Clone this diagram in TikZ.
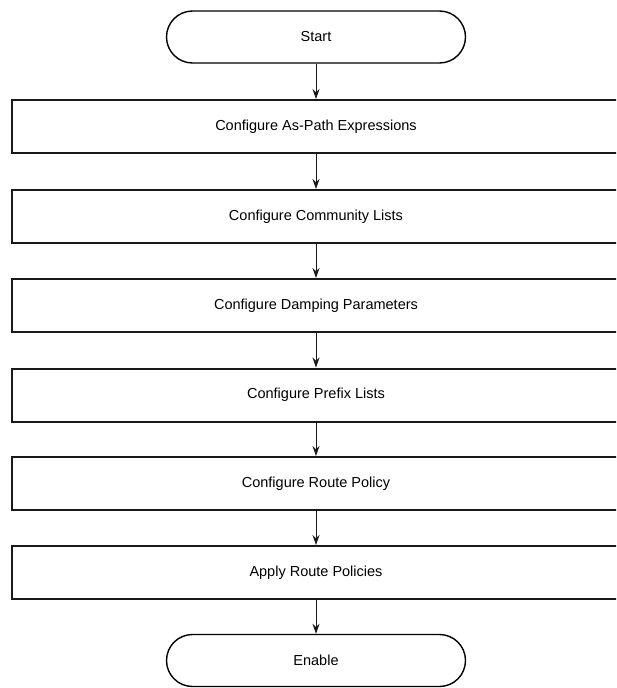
\documentclass[tikz,border=0pt]{standalone}
\usepackage{fontspec}
\setmainfont{Liberation Sans}
\usetikzlibrary{arrows.meta}
\begin{document}
\begin{tikzpicture}[x=1pt,y=-1pt,
  stepbox/.style={draw=black!90,line width=2pt,minimum width=608pt,minimum height=53pt,inner sep=0pt,font=\fontsize{14.5}{17}\selectfont},
  term/.style={draw=black,line width=1.4pt,rounded corners=26pt,minimum width=299pt,minimum height=52pt,inner sep=0pt,font=\fontsize{14.5}{17}\selectfont},
  conn/.style={draw=black!90,line width=0.9pt,-{Stealth[length=10pt,width=7pt]}}]
\useasboundingbox (0,0) rectangle (616,688);
\begin{scope}
\clip (0,0) rectangle (616,688);
\node[term] (start) at (316,37) {Start};
\node[stepbox] (s1) at (316,126.5) {Configure As-Path Expressions};
\node[stepbox] (s2) at (316,216.5) {Configure Community Lists};
\node[stepbox] (s3) at (316,305.5) {Configure Damping Parameters};
\node[stepbox] (s4) at (316,395) {Configure Prefix Lists};
\node[stepbox] (s5) at (316,483.5) {Configure Route Policy};
\node[stepbox] (s6) at (316,572.5) {Apply Route Policies};
\node[term] (enable) at (316,660.5) {Enable};
\end{scope}
\draw[conn] (start.south) -- (s1.north);
\draw[conn] (s1.south) -- (s2.north);
\draw[conn] (s2.south) -- (s3.north);
\draw[conn] (s3.south) -- (s4.north);
\draw[conn] (s4.south) -- (s5.north);
\draw[conn] (s5.south) -- (s6.north);
\draw[conn] (s6.south) -- (enable.north);
\end{tikzpicture}
\end{document}
